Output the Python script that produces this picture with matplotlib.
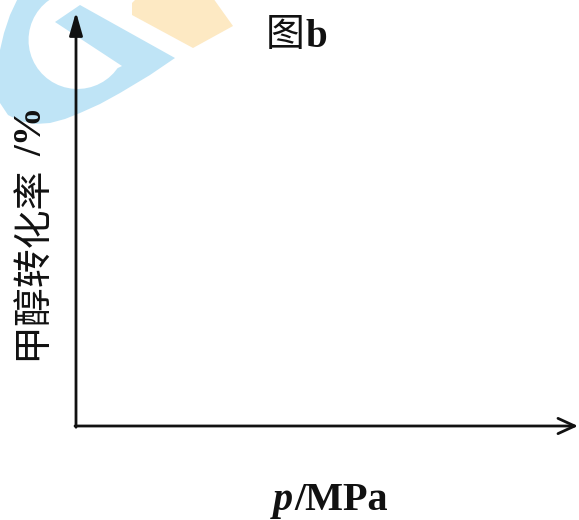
import numpy as np
import matplotlib.pyplot as plt
from matplotlib.patches import Polygon
from matplotlib.transforms import Affine2D, offset_copy

# axis titles and figure tag
fig_tag = "图"
fig_tag_letter = "b"
y_title = "甲醇转化率"
y_unit = "/%"
x_symbol = "p"
x_unit = "/MPa"

W, H = 579, 520
CJK = "Noto Sans CJK SC"
SERIF = "Liberation Serif"
INK = "#111111"

fig = plt.figure(figsize=(W / 100, H / 100), dpi=100)
# pixel coordinates measured from the top-left corner
px = Affine2D().scale(1, -1).translate(0, H).scale(1 / W, 1 / H) + fig.transFigure

# pale logo in the top-left corner
blue = "#bfe4f6"
yellow = "#fde9c3"
outer = [(18, -2), (10, 15), (4, 33), (0, 50), (-3, 75), (0, 103), (8, 115),
         (20, 121), (35, 124), (50, 123), (65, 119), (80, 113), (100, 104),
         (120, 93), (150, 75), (175, 58), (80, 5), (55, 22), (122, 66)]
t = np.radians(np.linspace(35, 262, 30))
inner = list(zip(77.5 + 49 * np.cos(t), 40 + 49 * np.sin(t)))
fig.add_artist(Polygon(outer + inner, closed=True, fc=blue, ec="none",
                       transform=px, zorder=0))
fig.add_artist(Polygon([(137, -2), (213, -2), (233, 26), (193, 48), (132, 15), (132, 3)],
                       closed=True, fc=yellow, ec="none", transform=px, zorder=0))

# axes with arrow heads, no ticks
ax = fig.add_axes([76 / W, (H - 426) / H, (578 - 76) / W, (426 - 12) / H])
ax.patch.set_visible(False)
ax.set_xlim(0, 1)
ax.set_ylim(0, 1)
ax.axis("off")

ax.annotate("", xy=(0, 1), xytext=(0, -0.003), xycoords="axes fraction",
            arrowprops=dict(arrowstyle="-|>,head_length=1.4,head_width=0.4",
                            lw=2, color=INK, shrinkA=0, shrinkB=0))
ax.annotate("", xy=(1, 0), xytext=(-0.002, 0), xycoords="axes fraction",
            arrowprops=dict(arrowstyle="->,head_length=1.2,head_width=0.55",
                            lw=2, color=INK, shrinkA=0, shrinkB=0))

# y title: Chinese part then unit
fig.text(32, 360, y_title, transform=px, rotation=90, rotation_mode="anchor",
         ha="left", va="center", family=CJK, fontsize=28, color=INK)
fig.text(32, 156, y_unit, transform=px, rotation=90, rotation_mode="anchor",
         ha="left", va="center", family=SERIF, weight="bold", fontsize=28,
         color=INK)

# figure tag
fig.text(266, 35, fig_tag, transform=px, ha="left", va="center",
         family=CJK, fontsize=28, color=INK)
fig.text(305, 47, fig_tag_letter, transform=px, ha="left", va="baseline",
         family=SERIF, weight="bold", fontsize=28, color=INK)

# x title: italic symbol, unit placed right after it
sym = fig.text(273, 510, x_symbol, transform=px, ha="left", va="baseline",
               family=SERIF, weight="bold", style="italic", fontsize=29, color=INK)
fig.canvas.draw()
bb = sym.get_window_extent()
fig.text(bb.x1 + 1, bb.y0, x_unit, transform=None, ha="left", va="bottom",
         family=SERIF, weight="bold", fontsize=29, color=INK)

fig.savefig("out.png", dpi=100)
